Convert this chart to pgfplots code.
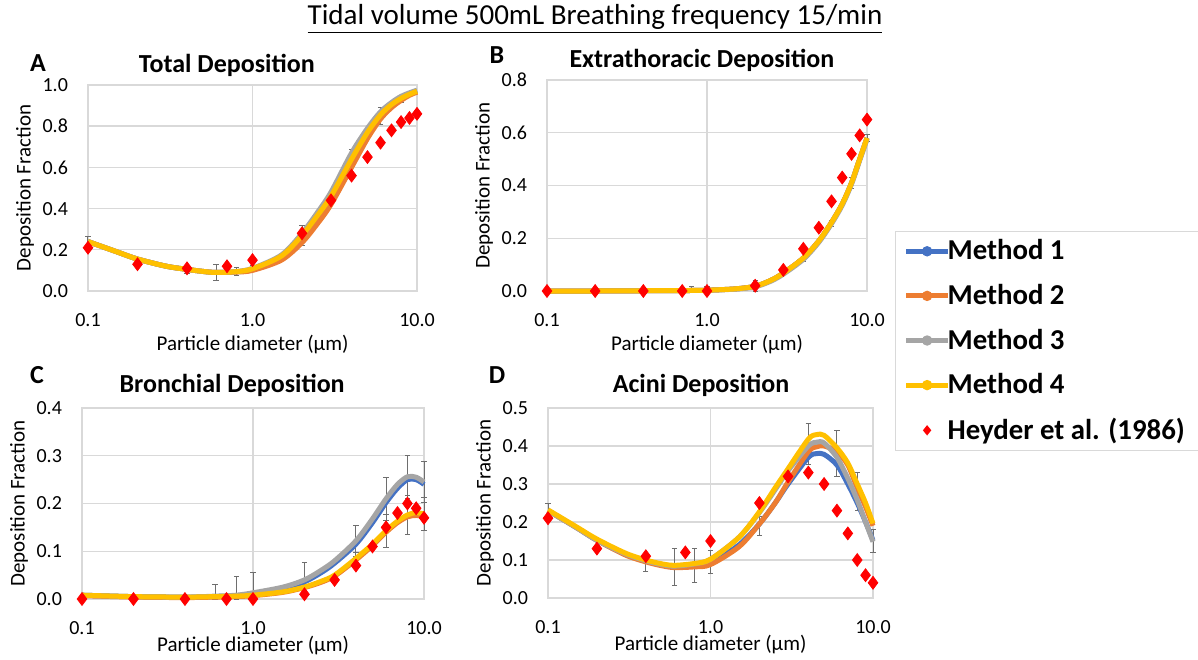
\documentclass[border=0pt]{standalone}
\usepackage{fontspec}
\setmainfont{Carlito}
\usepackage{pgfplots}
\usepackage{pgfplotstable}
\pgfplotsset{compat=1.18}

\definecolor{cA}{HTML}{4472C4}
\definecolor{cB}{HTML}{ED7D31}
\definecolor{cC}{HTML}{A5A5A5}
\definecolor{cD}{HTML}{FFC000}
\definecolor{cR}{HTML}{FF0000}
\definecolor{gridc}{HTML}{D9D9D9}
\definecolor{errc}{HTML}{6E6E6E}

% ---------- Panel A: total deposition ----------
\pgfplotstableread{
d    m1    m2    m3    m4
0.1  0.24  0.24  0.24  0.24
0.15 0.19  0.19  0.19  0.19
0.2  0.155 0.155 0.155 0.155
0.3  0.12  0.12  0.12  0.12
0.4  0.105 0.105 0.105 0.105
0.5  0.095 0.095 0.095 0.095
0.6  0.09  0.09  0.09  0.09
0.8  0.093 0.092 0.095 0.094
1    0.105 0.10  0.11  0.108
1.5  0.165 0.15  0.175 0.17
2    0.255 0.235 0.28  0.27
2.5  0.355 0.33  0.385 0.37
3    0.45  0.42  0.48  0.46
4    0.63  0.60  0.67  0.64
5    0.76  0.74  0.79  0.77
6    0.85  0.835 0.87  0.855
7    0.90  0.89  0.915 0.905
8    0.935 0.925 0.945 0.935
9    0.955 0.95  0.962 0.955
10   0.97  0.965 0.975 0.97
}\totaltab
\pgfplotstableread{
d v
0.1 0.21
0.2 0.13
0.4 0.11
0.7 0.12
1 0.15
2 0.28
3 0.44
4 0.56
5 0.65
6 0.72
7 0.78
8 0.82
9 0.84
10 0.86
}\totalexp
\pgfplotstableread{
d v e
0.1 0.24 0.025
0.2 0.15 0.015
0.4 0.10 0.015
0.6 0.09 0.04
0.8 0.095 0.02
1 0.11 0.012
2 0.27 0.05
4 0.66 0.025
6 0.85 0.04
8 0.93 0.015
}\totalerr

% ---------- Panel B: extrathoracic ----------
\pgfplotstableread{
d    m1    m2    m3    m4
0.1  0.0   0.0   0.0   0.0
0.2  0.0   0.0   0.0   0.0
0.4  0.001 0.001 0.001 0.001
0.6  0.001 0.001 0.001 0.001
0.8  0.002 0.002 0.002 0.002
1    0.003 0.003 0.003 0.003
1.5  0.008 0.008 0.007 0.008
2    0.018 0.018 0.016 0.018
2.5  0.04  0.04  0.037 0.04
3    0.068 0.068 0.064 0.068
4    0.125 0.125 0.12  0.125
5    0.19  0.19  0.185 0.19
6    0.26  0.26  0.255 0.26
7    0.33  0.33  0.325 0.33
8    0.41  0.41  0.405 0.41
9    0.50  0.50  0.495 0.50
10   0.58  0.58  0.575 0.58
}\extratab
\pgfplotstableread{
d v
0.1 0
0.2 0
0.4 0
0.7 0
1 0
2 0.02
3 0.08
4 0.16
5 0.24
6 0.34
7 0.43
8 0.52
9 0.59
10 0.65
}\extraexp
\pgfplotstableread{
d v e
0.6 0.002 0.002
0.8 0.006 0.01
1 0.006 0.012
2 0.02 0.02
4 0.12 0.01
6 0.255 0.012
8 0.41 0.02
10 0.58 0.012
}\extraerr

% ---------- Panel C: bronchial ----------
\pgfplotstableread{
d    m1    m2    m3    m4
0.1  0.008 0.007 0.008 0.008
0.2  0.005 0.004 0.005 0.005
0.4  0.004 0.003 0.004 0.004
0.6  0.005 0.004 0.006 0.005
0.8  0.007 0.005 0.008 0.006
1    0.011 0.007 0.013 0.008
1.5  0.022 0.014 0.025 0.015
2    0.036 0.024 0.04  0.025
2.5  0.055 0.035 0.06  0.037
3    0.075 0.048 0.08  0.05
4    0.115 0.082 0.122 0.085
5    0.16  0.112 0.168 0.115
6    0.202 0.14  0.21  0.143
7    0.232 0.16  0.24  0.163
8    0.25  0.172 0.256 0.176
9    0.25  0.175 0.255 0.181
10   0.24  0.172 0.245 0.178
}\bronchtab
\pgfplotstableread{
d v
0.1 0
0.2 0
0.4 0
0.7 0
1 0
2 0.01
3 0.04
4 0.07
5 0.11
6 0.15
7 0.18
8 0.20
9 0.19
10 0.17
}\bronchexp
\pgfplotstableread{
d v e
0.6 0.015 0.015
0.8 0.024 0.024
1 0.028 0.028
2 0.04 0.036
4 0.122 0.032
6 0.21 0.045
8 0.256 0.045
10 0.245 0.042
4 0.085 0.012
6 0.143 0.035
8 0.176 0.04
10 0.178 0.035
}\bronchoerr

% ---------- Panel D: acini ----------
\pgfplotstableread{
d    m1    m2    m3    m4
0.1  0.23  0.23  0.23  0.232
0.15 0.185 0.185 0.185 0.187
0.2  0.152 0.152 0.152 0.155
0.3  0.115 0.113 0.116 0.118
0.4  0.098 0.095 0.098 0.10
0.5  0.088 0.085 0.088 0.09
0.6  0.083 0.08  0.084 0.086
0.8  0.085 0.082 0.09  0.091
1    0.092 0.088 0.102 0.102
1.5  0.14  0.135 0.16  0.16
2    0.195 0.195 0.225 0.227
2.5  0.25  0.25  0.285 0.29
3    0.30  0.305 0.335 0.34
4    0.37  0.385 0.40  0.418
4.5  0.38  0.398 0.41  0.43
5    0.378 0.40  0.408 0.428
6    0.35  0.385 0.37  0.395
7    0.30  0.35  0.315 0.355
8    0.25  0.29  0.258 0.30
9    0.20  0.24  0.20  0.25
10   0.152 0.19  0.148 0.196
}\acinitab
\pgfplotstableread{
d v
0.1 0.21
0.2 0.13
0.4 0.11
0.7 0.12
1 0.15
2 0.25
3 0.32
4 0.33
5 0.30
6 0.23
7 0.17
8 0.10
9 0.06
10 0.04
}\aciniexp
\pgfplotstableread{
d v e
0.1 0.23 0.02
0.2 0.145 0.012
0.4 0.09 0.02
0.6 0.082 0.048
0.8 0.085 0.045
1 0.095 0.03
2 0.19 0.025
4 0.405 0.055
6 0.38 0.06
8 0.28 0.05
10 0.15 0.03
}\acinierr

\pgfplotsset{
  every axis/.append style={
    scale only axis,
    grid=major, major grid style={draw=gridc, line width=0.7pt},
    axis line style={draw=gridc, line width=0.7pt},
    major tick length=0pt, minor tick length=0pt,
    yticklabel={\pgfmathprintnumber[fixed,fixed zerofill,precision=1,assume math mode=true]{\tick}},
    yticklabel style={xshift=-6.5pt},
    xticklabel style={yshift=-7.5pt},
    tick label style={font=\fontsize{10}{12}\selectfont, text=black},
    xlabel={Particle diameter (µm)},
    ylabel={Deposition Fraction},
    label style={font=\fontsize{10.5}{12}\selectfont},
    clip=false,
  },
  every axis y label/.style={at={([xshift=-31.5pt]axis description cs:0,0.5)}, rotate=90, anchor=center},
  curve/.style={forget plot, smooth, line width=2.5pt, mark=none, line join=round},
  expt/.style={forget plot, only marks, mark=diamond*, mark size=3.2pt, color=cR},
  errs/.style={forget plot, draw=none, mark=none,
    error bars/y dir=both, error bars/y explicit,
    error bars/error bar style={draw=errc, line width=0.5pt},
    error bars/error mark options={draw=errc, rotate=90, mark size=1.3pt, line width=0.5pt}},
}

\begin{document}
\begin{tikzpicture}
\path[use as bounding box] (0,0) rectangle (599pt,329.5pt);

\node[font=\fontsize{14.5}{16}\selectfont] at (297.5pt,320pt) {\underline{Tidal volume 500mL Breathing frequency 15/min}};

\node[font=\bfseries\fontsize{13}{15}\selectfont] at (19pt,298pt) {A};
\node[font=\bfseries\fontsize{13}{15}\selectfont] at (248.5pt,302pt) {B};
\node[font=\bfseries\fontsize{13}{15}\selectfont] at (18.5pt,142pt) {C};
\node[font=\bfseries\fontsize{13}{15}\selectfont] at (248.5pt,142pt) {D};

% A
\begin{axis}[anchor=south west, at={(44pt,184pt)}, width=164.5pt, height=103pt,
  xmode=log, xmin=0.1, xmax=10, xtick={0.1,1,10}, xticklabels={0.1,1.0,10.0},
  ymin=0, ymax=1, ytick={0,0.2,0.4,0.6,0.8,1},
  title={Total Deposition},
  title style={at={([yshift=4pt]axis description cs:0.422,1)}, anchor=center, font=\bfseries\fontsize{13}{15}\selectfont},
  xlabel style={at={([yshift=-27pt]axis description cs:0.5,0)}, anchor=center}]
\addplot[errs] table[x=d,y=v,y error=e]{\totalerr};
\addplot[curve, cA] table[x=d,y=m1]{\totaltab};
\addplot[curve, cB] table[x=d,y=m2]{\totaltab};
\addplot[curve, cC] table[x=d,y=m3]{\totaltab};
\addplot[curve, cD] table[x=d,y=m4]{\totaltab};
\addplot[expt] table[x=d,y=v]{\totalexp};
\end{axis}

% B
\begin{axis}[anchor=south west, at={(273.5pt,184pt)}, width=160pt, height=105.5pt,
  xmode=log, xmin=0.1, xmax=10, xtick={0.1,1,10}, xticklabels={0.1,1.0,10.0},
  ymin=0, ymax=0.8, ytick={0,0.2,0.4,0.6,0.8},
  title={Extrathoracic Deposition},
  title style={at={([yshift=4pt]axis description cs:0.484,1)}, anchor=center, font=\bfseries\fontsize{13}{15}\selectfont},
  xlabel style={at={([yshift=-27pt]axis description cs:0.5,0)}, anchor=center},
  legend style={at={(1.0875,0.284)}, anchor=north west, draw=gridc, line width=0.6pt, fill=white,
    font=\bfseries\fontsize{14.4}{17}\selectfont, row sep=6.7pt, inner xsep=4pt, inner ysep=2pt,
    nodes={inner xsep=1.5pt},
    /tikz/every odd column/.append style={column sep=-3pt}},
  legend cell align=left]
\addplot[errs] table[x=d,y=v,y error=e]{\extraerr};
\addplot[curve, cA] table[x=d,y=m1]{\extratab};
\addplot[curve, cB] table[x=d,y=m2]{\extratab};
\addplot[curve, cC] table[x=d,y=m3]{\extratab};
\addplot[curve, cD] table[x=d,y=m4]{\extratab};
\addplot[expt] table[x=d,y=v]{\extraexp};
\addlegendimage{cA, legend image code/.code={\draw[cA, line width=2.5pt] (2.5pt,0pt) -- (23.5pt,0pt); \fill[cA] (13pt,0pt) circle (2.3pt);}}
\addlegendentry{Method 1}
\addlegendimage{cB, legend image code/.code={\draw[cB, line width=2.5pt] (2.5pt,0pt) -- (23.5pt,0pt); \fill[cB] (13pt,0pt) circle (2.3pt);}}
\addlegendentry{Method 2}
\addlegendimage{cC, legend image code/.code={\draw[cC, line width=2.5pt] (2.5pt,0pt) -- (23.5pt,0pt); \fill[cC] (13pt,0pt) circle (2.3pt);}}
\addlegendentry{Method 3}
\addlegendimage{cD, legend image code/.code={\draw[cD, line width=2.5pt] (2.5pt,0pt) -- (23.5pt,0pt); \fill[cD] (13pt,0pt) circle (2.3pt);}}
\addlegendentry{Method 4}
\addlegendimage{cR, legend image code/.code={\path[draw=none, fill=none] (2.5pt,0pt) -- (23.5pt,0pt); \fill[cR, draw=none] (13pt,2.6pt) -- (15.1pt,0pt) -- (13pt,-2.6pt) -- (10.9pt,0pt) -- cycle;}}
\addlegendentry{Heyder et al. (1986)\hspace*{10pt}}
\end{axis}

% C
\begin{axis}[anchor=south west, at={(41pt,30pt)}, width=171pt, height=95.5pt,
  xmode=log, xmin=0.1, xmax=10, xtick={0.1,1,10}, xticklabels={0.1,1.0,10.0},
  ymin=0, ymax=0.4, ytick={0,0.1,0.2,0.3,0.4},
  title={Bronchial Deposition},
  title style={at={([yshift=5.5pt]axis description cs:0.439,1)}, anchor=center, font=\bfseries\fontsize{13}{15}\selectfont},
  xlabel style={at={([yshift=-23.5pt]axis description cs:0.5,0)}, anchor=center}]
\addplot[errs] table[x=d,y=v,y error=e]{\bronchoerr};
\addplot[curve, cA] table[x=d,y=m1]{\bronchtab};
\addplot[curve, cB] table[x=d,y=m2]{\bronchtab};
\addplot[curve, cC] table[x=d,y=m3]{\bronchtab};
\addplot[curve, cD] table[x=d,y=m4]{\bronchtab};
\addplot[expt] table[x=d,y=v]{\bronchexp};
\end{axis}

% D
\begin{axis}[anchor=south west, at={(274pt,30.5pt)}, width=162.5pt, height=95pt,
  xmode=log, xmin=0.1, xmax=10, xtick={0.1,1,10}, xticklabels={0.1,1.0,10.0},
  ymin=0, ymax=0.5, ytick={0,0.1,0.2,0.3,0.4,0.5},
  title={Acini Deposition},
  title style={at={([yshift=5.5pt]axis description cs:0.471,1)}, anchor=center, font=\bfseries\fontsize{13}{15}\selectfont},
  xlabel style={at={([yshift=-23.5pt]axis description cs:0.5,0)}, anchor=center}]
\addplot[errs] table[x=d,y=v,y error=e]{\acinierr};
\addplot[curve, cA] table[x=d,y=m1]{\acinitab};
\addplot[curve, cB] table[x=d,y=m2]{\acinitab};
\addplot[curve, cC] table[x=d,y=m3]{\acinitab};
\addplot[curve, cD] table[x=d,y=m4]{\acinitab};
\addplot[expt] table[x=d,y=v]{\aciniexp};
\end{axis}
\end{tikzpicture}
\end{document}
